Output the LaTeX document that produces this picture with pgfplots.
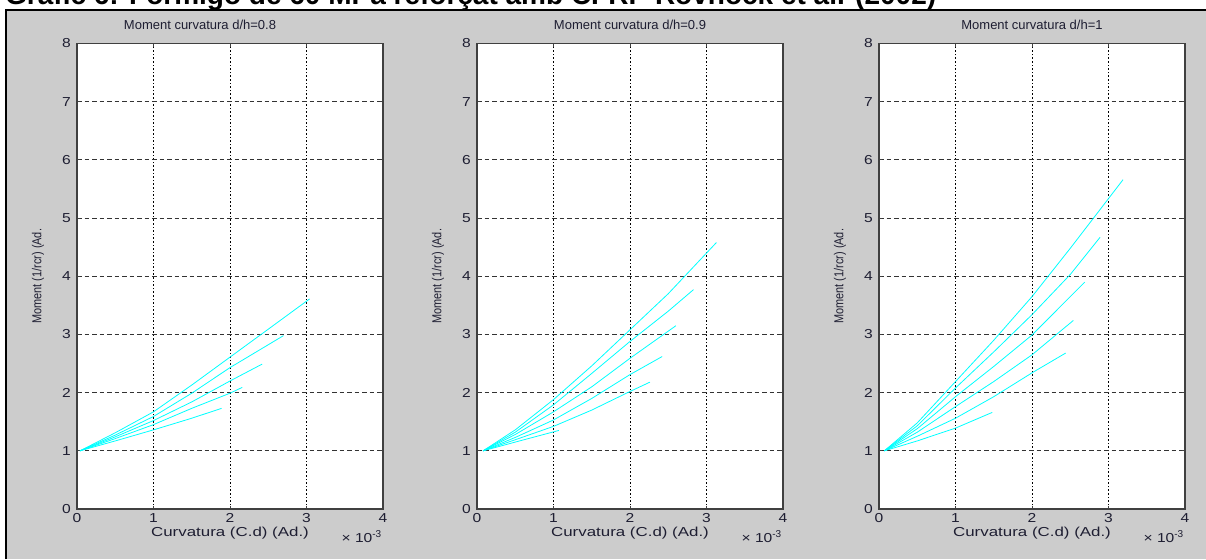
\documentclass[border=0pt]{standalone}
\usepackage{pgfplots}
\pgfplotsset{compat=1.18}
\usepackage{fontspec}
\setmainfont{Liberation Sans}
\definecolor{panelgray}{RGB}{204,204,204}
\definecolor{axgray}{RGB}{64,64,64}
\definecolor{ticklab}{RGB}{30,30,50}
\definecolor{curve}{RGB}{0,255,255}
\pgfplotsset{
  mc/.style={curve, line width=0.8pt, mark=none},
  mcstyle/.style={
    scale only axis, width=306pt, height=465.5pt, anchor=south west,
    xmin=0,xmax=4,ymin=0,ymax=8,
    xtick={0,1,2,3,4}, ytick={0,1,...,8},
    axis background/.style={fill=white},
    axis line style={axgray, line width=1.3pt},
    grid=major,
    x grid style={black, line width=0.9pt, dash pattern=on 1.6pt off 2pt},
    y grid style={black!80, line width=0.9pt, dash pattern=on 4.5pt off 3pt},
    tick align=inside, major tick length=3pt, tick style={axgray, line width=0.8pt},
    /pgf/number format/assume math mode=true,
    ticklabel style={font=\fontsize{13}{13}\selectfont, text=ticklab, inner sep=0pt},
    xticklabel style={anchor=north, yshift=-4.5pt},
    yticklabel style={anchor=east, xshift=-6pt},
    xticklabel={\scalebox{1.2}[1]{\pgfmathprintnumber{\tick}}},
    yticklabel={\scalebox{1.2}[1]{\pgfmathprintnumber{\tick}}},
    title style={at={(0.5,1)}, anchor=base, yshift=8.5pt, inner sep=0pt, font=\fontsize{13}{13}\selectfont, text=ticklab},
    clip=false,
  }
}
\newcommand{\decor}{%
  \node[rotate=90, font=\fontsize{13}{13}\selectfont, text=ticklab] at (rel axis cs:-0.1275,0.5) {\scalebox{0.84}[1]{Moment (1/rcr) (Ad.}};
  \node[font=\fontsize{13}{13}\selectfont, text=ticklab] at (rel axis cs:0.5,-0.0516) {\scalebox{1.3}[1]{Curvatura (C.d) (Ad.)}};
  \node[anchor=base east, inner sep=0pt, font=\fontsize{13}{13}\selectfont, text=ticklab] at (rel axis cs:0.995,-0.073) {\scalebox{1.2}[1]{× 10}\raisebox{5pt}{\fontsize{10}{10}\selectfont -3}};
}
\begin{document}
\begin{tikzpicture}[x=1pt,y=1pt]
\useasboundingbox (0,0) rectangle (1206,559);
\fill[panelgray] (6,0) rectangle (1206,549);
\node[anchor=base west, inner sep=0pt, font=\bfseries\fontsize{28}{28}\selectfont] at (5,554.5) {Gràfic 6: Formigó de 60 MPa reforçat amb CFRP Rovnock et al. (2002)};
\draw[black, line width=2.5pt] (6,0) -- (6,549) -- (1206,549);

\begin{axis}[mcstyle, at={(77pt,50pt)}, title={Moment curvatura d/h=0.8}, title style={xshift=-30pt}]
\addplot[mc] coordinates {(0.04,1)(0.5,1.17)(1,1.36)(1.5,1.56)(1.89,1.73)};
\addplot[mc] coordinates {(0.04,1)(0.5,1.21)(1,1.45)(1.5,1.73)(2,1.99)(2.16,2.09)};
\addplot[mc] coordinates {(0.04,1)(0.5,1.24)(1,1.52)(1.5,1.84)(2,2.2)(2.42,2.49)};
\addplot[mc] coordinates {(0.04,1)(0.5,1.27)(1,1.59)(1.5,1.99)(2,2.43)(2.70,2.98)};
\addplot[mc] coordinates {(0.04,1)(0.5,1.31)(1,1.67)(1.5,2.13)(2,2.61)(2.5,3.09)(3.04,3.61)};
\decor
\end{axis}

\begin{axis}[mcstyle, at={(477pt,50pt)}, title={Moment curvatura d/h=0.9}]
\addplot[mc] coordinates {(0.08,1)(0.5,1.15)(1.07,1.35)};
\addplot[mc] coordinates {(0.08,1)(0.5,1.19)(1,1.42)(1.5,1.7)(2,2.02)(2.26,2.18)};
\addplot[mc] coordinates {(0.08,1)(0.5,1.23)(1,1.53)(1.5,1.9)(2,2.31)(2.42,2.62)};
\addplot[mc] coordinates {(0.08,1)(0.5,1.28)(1,1.67)(1.5,2.1)(2,2.59)(2.6,3.15)};
\addplot[mc] coordinates {(0.08,1)(0.5,1.32)(1,1.79)(1.5,2.33)(2,2.88)(2.5,3.4)(2.83,3.77)};
\addplot[mc] coordinates {(0.08,1)(0.5,1.36)(1,1.88)(1.5,2.46)(2,3.08)(2.5,3.7)(3.13,4.58)};
\decor
\end{axis}

\begin{axis}[mcstyle, at={(879pt,50pt)}, title={Moment curvatura d/h=1}]
\addplot[mc] coordinates {(0.07,1)(0.5,1.17)(1,1.39)(1.48,1.66)};
\addplot[mc] coordinates {(0.07,1)(0.5,1.25)(1,1.56)(1.5,1.93)(2,2.34)(2.44,2.68)};
\addplot[mc] coordinates {(0.07,1)(0.5,1.32)(1,1.76)(1.5,2.19)(2,2.65)(2.54,3.24)};
\addplot[mc] coordinates {(0.07,1)(0.5,1.38)(1,1.93)(1.5,2.45)(2,2.99)(2.5,3.65)(2.69,3.90)};
\addplot[mc] coordinates {(0.07,1)(0.5,1.43)(1,2.08)(1.5,2.7)(2,3.34)(2.5,4.03)(2.89,4.67)};
\addplot[mc] coordinates {(0.07,1)(0.5,1.48)(1,2.19)(1.5,2.9)(2,3.65)(2.5,4.48)(3.19,5.66)};
\decor
\end{axis}
\end{tikzpicture}
\end{document}
